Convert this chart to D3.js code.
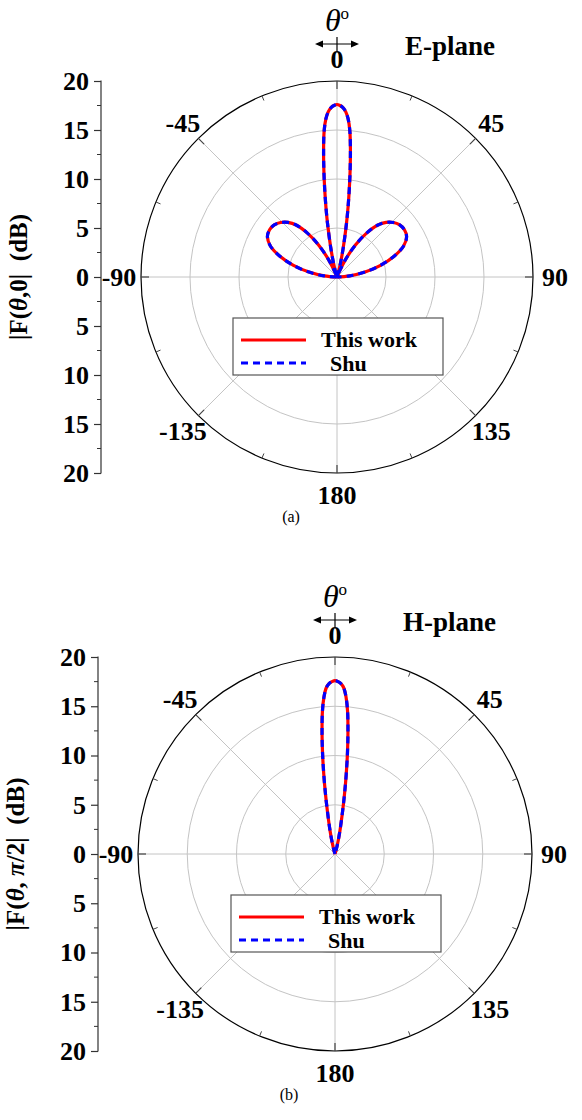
<!DOCTYPE html>
<html>
<head>
<meta charset="utf-8">
<script src="https://cdn.jsdelivr.net/npm/d3@7"></script>
<style>
  body { margin: 0; background: #fff; }
  svg text { font-family: "Liberation Serif", "Times New Roman", serif; }
</style>
</head>
<body>
<div id="chart"></div>
<script>
// angular ticks (degrees) and labels
var angleTicks  = [0, 45, 90, 135, 180, -135, -90, -45];
var angleLabels = ['0', '45', '90', '135', '180', '-135', '-90', '-45'];
var minorAngles = [22.5, 67.5, 112.5, 157.5, -157.5, -112.5, -67.5, -22.5];
// radial axis ticks (dB), drawn as a signed axis through the centre
var radialTicks = [20, 15, 10, 5, 0, -5, -10, -15, -20];
var gridRings   = [5, 10, 15];
var legendNames = ['This work', 'Shu'];

// E-plane |F(theta,0)| in dB
var anglesE   = [-90, -85, -80, -75, -70, -65, -60, -55, -50, -46, -42, -38, -34, -30, -26, -22, -20, -18, -16, -14, -12, -10, -9, -8, -7, -6, -5, -4, -3, -2, -1,
                 0, 1, 2, 3, 4, 5, 6, 7, 8, 9, 10, 12, 14, 16, 18, 20, 22, 26, 30, 34, 38, 42, 46, 50, 55, 60, 65, 70, 75, 80, 85, 90];
var thisWorkE = [0, 1.3, 2.9, 4.6, 6.2, 7.5, 8.2, 8.4, 8.3, 8.0, 7.5, 6.7, 5.4, 3.8, 2.0, 0.4, 0, 0, 0.5, 1.5, 3.1, 5.6, 7.2, 9.0, 11.0, 13.1, 15.0, 16.2, 16.9, 17.3, 17.5,
                 17.6, 17.5, 17.3, 16.9, 16.2, 15.0, 13.1, 11.0, 9.0, 7.2, 5.6, 3.1, 1.5, 0.5, 0, 0, 0.4, 2.0, 3.8, 5.4, 6.7, 7.5, 8.0, 8.3, 8.4, 8.2, 7.5, 6.2, 4.6, 2.9, 1.3, 0];
var shuE      = [0, 1.3, 2.9, 4.6, 6.2, 7.5, 8.2, 8.4, 8.3, 8.0, 7.5, 6.7, 5.4, 3.8, 2.0, 0.4, 0, 0, 0.5, 1.5, 3.1, 5.6, 7.2, 9.0, 11.0, 13.1, 15.0, 16.2, 16.9, 17.3, 17.5,
                 17.6, 17.5, 17.3, 16.9, 16.2, 15.0, 13.1, 11.0, 9.0, 7.2, 5.6, 3.1, 1.5, 0.5, 0, 0, 0.4, 2.0, 3.8, 5.4, 6.7, 7.5, 8.0, 8.3, 8.4, 8.2, 7.5, 6.2, 4.6, 2.9, 1.3, 0];

// H-plane |F(theta,pi/2)| in dB
var anglesH   = [-90, -60, -30, -18, -16, -14, -12, -10, -9, -8, -7, -6, -5, -4, -3, -2, -1,
                 0, 1, 2, 3, 4, 5, 6, 7, 8, 9, 10, 12, 14, 16, 18, 30, 60, 90];
var thisWorkH = [0, 0, 0, 0, 0.4, 1.1, 2.4, 4.5, 6.2, 8.2, 10.4, 12.6, 14.6, 16.0, 16.9, 17.3, 17.5,
                 17.6, 17.5, 17.3, 16.9, 16.0, 14.6, 12.6, 10.4, 8.2, 6.2, 4.5, 2.4, 1.1, 0.4, 0, 0, 0, 0];
var shuH      = [0, 0, 0, 0, 0.4, 1.1, 2.4, 4.5, 6.2, 8.2, 10.4, 12.6, 14.6, 16.0, 16.9, 17.3, 17.5,
                 17.6, 17.5, 17.3, 16.9, 16.0, 14.6, 12.6, 10.4, 8.2, 6.2, 4.5, 2.4, 1.1, 0.4, 0, 0, 0, 0];

var width = 582, height = 1120;

var svg = d3.select('#chart').append('svg')
  .attr('width', width)
  .attr('height', height);

function drawPolar(opt) {

  var g = svg.append('g')
    .attr('transform', 'translate(' + opt.cx + ',' + opt.cy + ')');

  var r = d3.scaleLinear().domain([0, 20]).range([0, opt.R]);
  var a = d3.scaleLinear().domain([0, 360]).range([0, 2 * Math.PI]);

  function px(deg, rad) { return rad * Math.sin(a(deg)); }
  function py(deg, rad) { return -rad * Math.cos(a(deg)); }

  // grid rings
  g.selectAll('.ring')
    .data(gridRings)
  .enter().append('circle')
    .attr('r', function(d) { return r(d); })
    .attr('fill', 'none')
    .attr('stroke', '#c4c4c4')
    .attr('stroke-width', 1);

  // radial spokes
  g.selectAll('.spoke')
    .data(angleTicks)
  .enter().append('line')
    .attr('x1', 0).attr('y1', 0)
    .attr('x2', function(d) { return px(d, r(20)); })
    .attr('y2', function(d) { return py(d, r(20)); })
    .attr('stroke', '#c4c4c4')
    .attr('stroke-width', 1);

  // outer circle
  g.append('circle')
    .attr('r', r(20))
    .attr('fill', 'none')
    .attr('stroke', '#000')
    .attr('stroke-width', 1.2);

  // ticks on outer circle
  g.selectAll('.atick')
    .data(angleTicks)
  .enter().append('line')
    .attr('x1', function(d) { return px(d, r(20)); })
    .attr('y1', function(d) { return py(d, r(20)); })
    .attr('x2', function(d) { return px(d, r(20) - 8); })
    .attr('y2', function(d) { return py(d, r(20) - 8); })
    .attr('stroke', '#444')
    .attr('stroke-width', 1.2);

  g.selectAll('.mtick')
    .data(minorAngles)
  .enter().append('line')
    .attr('x1', function(d) { return px(d, r(20)); })
    .attr('y1', function(d) { return py(d, r(20)); })
    .attr('x2', function(d) { return px(d, r(20) - 5); })
    .attr('y2', function(d) { return py(d, r(20) - 5); })
    .attr('stroke', '#444')
    .attr('stroke-width', 1);

  // angle labels
  g.selectAll('.alabel')
    .data(angleTicks)
  .enter().append('text')
    .attr('x', function(d) { return px(d, r(20) + 22); })
    .attr('y', function(d) { return py(d, r(20) + 22); })
    .attr('dy', '0.35em')
    .attr('text-anchor', 'middle')
    .style('font-size', '26px')
    .style('font-weight', 'bold')
    .text(function(d, i) { return angleLabels[i]; });

  // patterns
  var line = d3.lineRadial()
    .angle(function(d) { return a(d[0]); })
    .radius(function(d) { return r(d[1]); })
    .curve(d3.curveCatmullRom.alpha(0.5));

  var dataA = opt.angles.map(function(t, i) { return [t, opt.seriesA[i]]; });
  var dataB = opt.angles.map(function(t, i) { return [t, opt.seriesB[i]]; });

  g.append('path')
    .datum(dataA)
    .attr('d', line)
    .attr('fill', 'none')
    .attr('stroke', '#ff0000')
    .attr('stroke-width', 3.2);

  g.append('path')
    .datum(dataB)
    .attr('d', line)
    .attr('fill', 'none')
    .attr('stroke', '#0000ff')
    .attr('stroke-width', 3.2)
    .attr('stroke-dasharray', '7,5');

  // left signed radial axis
  var y = d3.scaleLinear().domain([-20, 20]).range([opt.cy + opt.R, opt.cy - opt.R]);

  var axis = svg.append('g')
    .attr('transform', 'translate(' + opt.axisX + ',0)')
    .call(d3.axisLeft(y)
      .tickValues(radialTicks)
      .tickSize(7)
      .tickPadding(5)
      .tickFormat(function(d) { return Math.abs(d); }));

  axis.select('.domain').attr('stroke', '#333').attr('stroke-width', 1.2)
    .attr('d', 'M-0.5,' + y(20) + 'H0V' + y(-20) + 'H-0.5');
  axis.selectAll('.tick line').attr('stroke', '#333').attr('stroke-width', 1.2);
  axis.selectAll('.tick text')
    .style('font-family', '"Liberation Serif", "Times New Roman", serif')
    .style('font-size', '26px')
    .style('font-weight', 'bold')
    .attr('fill', '#000');

  // minor ticks on left axis
  axis.selectAll('.minor')
    .data(d3.range(-17.5, 20, 5))
  .enter().append('line')
    .attr('x1', -4).attr('x2', 0)
    .attr('y1', function(d) { return y(d); })
    .attr('y2', function(d) { return y(d); })
    .attr('stroke', '#333')
    .attr('stroke-width', 1);

  // axis title
  var title = svg.append('text')
    .attr('transform', 'translate(' + (opt.axisX - 74) + ',' + opt.cy + ') rotate(-90)')
    .attr('text-anchor', 'middle')
    .style('font-size', '25px')
    .style('font-weight', 'bold');
  title.append('tspan').text('|F(');
  title.append('tspan').style('font-style', 'italic').text('\u03b8');
  title.append('tspan').text(opt.titleRest);
  if (opt.titlePi) {
    title.append('tspan').style('font-style', 'italic').text('\u03c0');
    title.append('tspan').text('/2|');
  }
  title.append('tspan').text('\u00a0 (dB)');

  // theta marker above the plot
  var th = g.append('text')
    .attr('x', 0)
    .attr('y', -opt.R - 50)
    .attr('text-anchor', 'middle')
    .style('font-size', '32px')
    .style('font-style', 'italic');
  th.append('tspan').text('\u03b8');
  th.append('tspan').attr('dy', -12).style('font-size', '17px').style('font-style', 'normal').text('o');

  var ay = -opt.R - 37;
  g.append('line')
    .attr('x1', -20).attr('x2', 20).attr('y1', ay).attr('y2', ay)
    .attr('stroke', '#000').attr('stroke-width', 1.2);
  g.append('line')
    .attr('x1', 0).attr('x2', 0).attr('y1', ay - 7).attr('y2', ay + 7)
    .attr('stroke', '#000').attr('stroke-width', 1.2);
  g.append('path')
    .attr('d', 'M-22,' + ay + 'l8,-3.5v7z M22,' + ay + 'l-8,-3.5v7z')
    .attr('fill', '#000');

  // plane label
  g.append('text')
    .attr('x', 68)
    .attr('y', -opt.R - 26)
    .style('font-size', '27px')
    .style('font-weight', 'bold')
    .text(opt.plane);

  // legend
  var lg = g.append('g').attr('transform', 'translate(-104,' + 41 + ')');
  lg.append('rect')
    .attr('width', 210).attr('height', 57)
    .attr('fill', '#fff')
    .attr('stroke', '#555')
    .attr('stroke-width', 1.2);
  lg.append('line')
    .attr('x1', 8).attr('x2', 73).attr('y1', 22).attr('y2', 22)
    .attr('stroke', '#ff0000').attr('stroke-width', 3.2);
  lg.append('line')
    .attr('x1', 8).attr('x2', 73).attr('y1', 45).attr('y2', 45)
    .attr('stroke', '#0000ff').attr('stroke-width', 3.2)
    .attr('stroke-dasharray', '7,5');
  lg.append('text')
    .attr('x', 88).attr('y', 29)
    .style('font-size', '22px').style('font-weight', 'bold')
    .text(legendNames[0]);
  lg.append('text')
    .attr('x', 97).attr('y', 53)
    .style('font-size', '22px').style('font-weight', 'bold')
    .text(legendNames[1]);

  // caption
  g.append('text')
    .attr('x', -46)
    .attr('y', opt.R + 49)
    .attr('text-anchor', 'middle')
    .style('font-size', '16px')
    .text(opt.caption);
}

drawPolar({
  cx: 337, cy: 277, R: 196, axisX: 101,
  angles: anglesE, seriesA: thisWorkE, seriesB: shuE,
  titleRest: ',0|', titlePi: false,
  plane: 'E-plane', caption: '(a)'
});

drawPolar({
  cx: 335, cy: 854, R: 197, axisX: 98,
  angles: anglesH, seriesA: thisWorkH, seriesB: shuH,
  titleRest: ', ', titlePi: true,
  plane: 'H-plane', caption: '(b)'
});
</script>
</body>
</html>
